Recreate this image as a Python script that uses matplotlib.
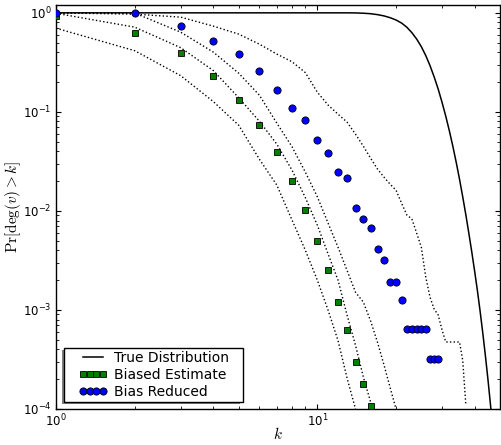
import matplotlib
matplotlib.use("Agg")
import matplotlib.pyplot as plt
from matplotlib.patches import Rectangle
import numpy as np

# degree k
k_true = np.arange(1, 48)
true_pr = [1.0] * 13 + [0.998, 0.991, 0.980, 0.959, 0.931, 0.893, 0.847, 0.789, 0.716, 0.631,
                        0.543, 0.455, 0.370, 0.292, 0.225, 0.170, 0.125, 0.0906, 0.0644, 0.0450,
                        0.0309, 0.0209, 0.0139, 0.00916, 0.00594, 0.00384, 0.00245, 0.00155,
                        0.000953, 0.000574, 0.000338, 0.000195, 0.000109, 0.0000601]

k_biased = np.arange(1, 17)
biased = [0.93, 0.62, 0.389, 0.231, 0.133, 0.073, 0.0389, 0.0200, 0.0102, 0.00494,
          0.00254, 0.00120, 0.000623, 0.000300, 0.000178, 0.000108]

k_reduced = np.arange(1, 30)
reduced = [1.0, 1.0, 0.734, 0.518, 0.380, 0.256, 0.166, 0.109, 0.0824, 0.0526,
           0.0383, 0.0248, 0.0216, 0.0106, 0.00838, 0.00673, 0.00417, 0.0032, 0.00192, 0.00192,
           0.00127, 0.000638, 0.000638, 0.000638, 0.000638, 0.000638, 0.00032, 0.00032, 0.00032]

# bands around the estimates (dotted)
k_biased_hi = np.arange(1, 17)
biased_hi = [0.99, 0.717, 0.445, 0.261, 0.139, 0.0805, 0.0472, 0.0258, 0.0136, 0.00718,
             0.00366, 0.0020, 0.000883, 0.00044, 0.00021, 0.000117]
k_biased_lo = np.arange(1, 15)
biased_lo = [0.70, 0.415, 0.232, 0.127, 0.0734, 0.0333, 0.0182, 0.0081, 0.0040, 0.0020,
             0.00099, 0.00049, 0.000204, 0.0001]
k_reduced_lo = np.arange(1, 21)
reduced_lo = [1.0, 0.995, 0.638, 0.401, 0.246, 0.1475, 0.0769, 0.0445, 0.0246, 0.0139,
              0.0075, 0.0043, 0.0025, 0.00151, 0.0012, 0.00077, 0.00047, 0.000277, 0.000164, 0.0001]
k_reduced_hi = np.arange(1, 38)
reduced_hi = [1.0, 0.97, 0.905, 0.734, 0.61, 0.483, 0.383, 0.321, 0.249, 0.158,
              0.117, 0.0948, 0.0787, 0.0595, 0.045, 0.034, 0.0264, 0.0219, 0.0186, 0.0162,
              0.012, 0.0091, 0.0083, 0.00596, 0.0043, 0.00214, 0.00134, 0.00102, 0.00089, 0.00063,
              0.000475, 0.000475, 0.000475, 0.000475, 0.000475, 0.00031, 0.00011]

fig = plt.figure(figsize=(5.01, 4.45), dpi=100)
ax = fig.add_axes([56 / 501, 36 / 445, 444 / 501, 404 / 445])

ax.plot(k_true, true_pr, color='k', lw=1.1, label='True Distribution')
for kk, vv in [(k_biased_hi, biased_hi), (k_biased_lo, biased_lo),
               (k_reduced_lo, reduced_lo), (k_reduced_hi, reduced_hi)]:
    ax.plot(kk, vv, color='k', ls=':', lw=1.0)
ax.plot(k_biased, biased, 's', color='#007f00', mec='k', mew=0.6, ms=5,
        label='Biased Estimate', zorder=4)
ax.plot(k_reduced, reduced, 'o', color='#0000ff', mec='k', mew=0.6, ms=5.2,
        label='Bias Reduced', zorder=4)

ax.set_xscale('log')
ax.set_yscale('log')
ax.set_xlim(1, 50)
ax.set_ylim(1e-4, 1.2)

ax.tick_params(which='both', direction='in', top=True, right=True, labelsize=8.5, pad=3)
ax.tick_params(which='major', length=3.5, width=0.8)
ax.tick_params(which='minor', length=2, width=0.6)
for s in ax.spines.values():
    s.set_linewidth(1.0)

ax.set_xlabel(r'$k$', fontsize=11, math_fontfamily='cm')
ax.set_ylabel(r'$\mathrm{Pr}[\deg(v) > k]$', fontsize=11, math_fontfamily='cm')
ax.xaxis.set_label_coords(0.5, -0.043)
ax.yaxis.set_label_coords(-0.075, 0.5)

# legend frame with shadow
ax.add_patch(Rectangle((0.018 - 0.0056, 0.018 - 0.005), 0.4025, 0.133, transform=ax.transAxes,
                       facecolor='#808080', edgecolor='none', zorder=6))
ax.add_patch(Rectangle((0.018, 0.018), 0.4025, 0.133, transform=ax.transAxes,
                       facecolor='white', edgecolor='k', lw=1.0, zorder=6.1))
leg = ax.legend(loc='center left', bbox_to_anchor=(0.0514, 0.0842), frameon=False,
                borderpad=0, borderaxespad=0, handlelength=2.05, handletextpad=0.45,
                labelspacing=0.2, numpoints=4, fontsize=10)
leg.set_zorder(7)

fig.savefig('out.png', dpi=100)
